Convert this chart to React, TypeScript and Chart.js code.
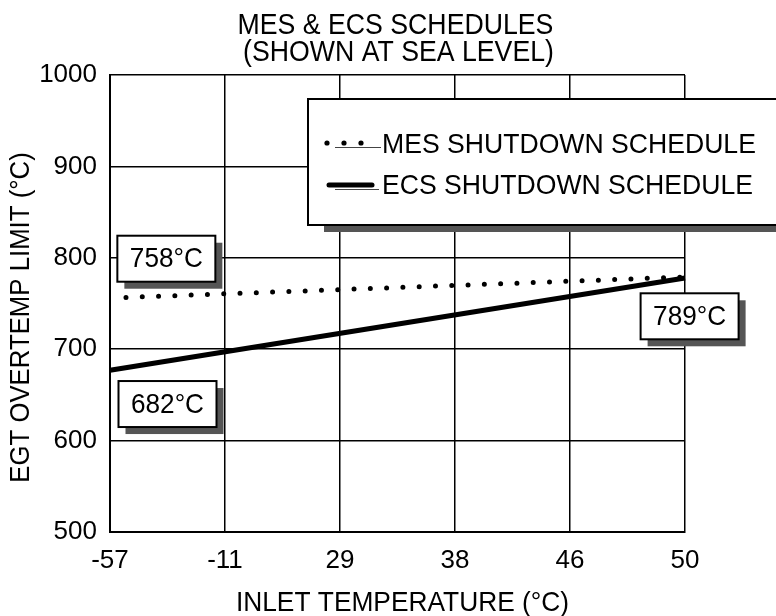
import React, { useEffect, useRef } from "react";
import { Chart, registerables } from "chart.js";

Chart.register(...registerables);

// ---- data ----
const categories = ["-57", "-11", "29", "38", "46", "50"];
const mesValues: (number | null)[] = [756, null, null, null, null, 779];
const ecsValues: (number | null)[] = [677, null, null, null, null, 778];
const yMin = 500;
const yMax = 1000;
const yStep = 100;

const titleLines = ["MES & ECS SCHEDULES", "(SHOWN AT SEA LEVEL)"];
const xTitle = "INLET TEMPERATURE (°C)";
const yTitle = "EGT OVERTEMP LIMIT (°C)";
const seriesNames = ["MES SHUTDOWN SCHEDULE", "ECS SHUTDOWN SCHEDULE"];

// callout labels and their anchors (category index, value)
const calloutTexts = ["758°C", "682°C", "789°C"];
const calloutIndex = [0.49, 0.5, 5.04];
const calloutValue = [799, 640, 736];

const FONT = '"Liberation Sans", Arial, Helvetica, sans-serif';

function txt(ctx: CanvasRenderingContext2D, s: string, x: number, y: number, size: number, sx: number) {
  ctx.save();
  ctx.translate(x, y);
  ctx.scale(sx, 1);
  ctx.font = `${size}px ${FONT}`;
  ctx.fillText(s, 0, 0);
  ctx.restore();
}

const overlay = {
  id: "overlay",
  afterDraw(chart: any) {
    const ctx: CanvasRenderingContext2D = chart.ctx;
    const ca = chart.chartArea;
    const xs = chart.scales.x;
    const ys = chart.scales.y;
    ctx.save();
    ctx.fillStyle = "#000";
    ctx.textAlign = "center";
    ctx.textBaseline = "middle";

    // title
    const cx = (ca.left + ca.right) / 2;
    txt(ctx, titleLines[0], cx - 2, 26, 29, 0.92);
    txt(ctx, titleLines[1], cx + 1, 53, 29, 0.92);

    // x title
    txt(ctx, xTitle, cx + 5, 603, 28, 0.94);

    // y title
    ctx.save();
    ctx.translate(21, (ca.top + ca.bottom) / 2 + 14);
    ctx.rotate(-Math.PI / 2);
    txt(ctx, yTitle, 0, 0, 28, 0.92);
    ctx.restore();

    // legend box
    const lx = ca.left + 198;
    const ly = ca.top + 24;
    const lh = 126;
    const lw = 800 - lx;
    ctx.fillStyle = "#555";
    ctx.fillRect(lx + 16, ly + lh, lw, 7);
    ctx.fillStyle = "#fff";
    ctx.fillRect(lx, ly, lw, lh);
    ctx.strokeStyle = "#000";
    ctx.lineWidth = 2;
    ctx.strokeRect(lx, ly, lw, lh);

    // legend sample MES
    const r1 = ly + 46;
    const r2 = ly + 87;
    ctx.fillStyle = "#000";
    [19, 36, 53].forEach((dx) => {
      ctx.beginPath();
      ctx.arc(lx + dx, r1 - 2, 2.6, 0, Math.PI * 2);
      ctx.fill();
    });
    ctx.strokeStyle = "#444";
    ctx.lineWidth = 1;
    ctx.beginPath();
    ctx.moveTo(lx + 27, r1 + 2.5);
    ctx.lineTo(lx + 73, r1 + 2.5);
    ctx.stroke();
    // legend sample ECS
    ctx.strokeStyle = "#000";
    ctx.lineWidth = 5;
    ctx.lineCap = "round";
    ctx.beginPath();
    ctx.moveTo(lx + 21, r2 - 1);
    ctx.lineTo(lx + 64, r2 - 1);
    ctx.stroke();
    ctx.lineCap = "butt";
    ctx.strokeStyle = "#444";
    ctx.lineWidth = 1;
    ctx.beginPath();
    ctx.moveTo(lx + 27, r2 + 3.5);
    ctx.lineTo(lx + 71, r2 + 3.5);
    ctx.stroke();

    ctx.fillStyle = "#000";
    ctx.textAlign = "left";
    txt(ctx, seriesNames[0], lx + 74, r1, 28, 0.95);
    txt(ctx, seriesNames[1], lx + 74, r2, 28, 0.95);

    // callouts
    ctx.textAlign = "center";
    const bw = 98;
    const bh = 46;
    calloutTexts.forEach((t, i) => {
      const px = xs.getPixelForValue(calloutIndex[i]);
      const py = ys.getPixelForValue(calloutValue[i]);
      const bx = px - bw / 2;
      const by = py - bh / 2;
      ctx.fillStyle = "#555";
      ctx.fillRect(bx + 7, by + 7, bw, bh);
      ctx.fillStyle = "#fff";
      ctx.fillRect(bx, by, bw, bh);
      ctx.strokeStyle = "#000";
      ctx.lineWidth = 2;
      ctx.strokeRect(bx, by, bw, bh);
      ctx.fillStyle = "#000";
      txt(ctx, t, px, py + 1, 28, 0.935);
    });

    ctx.restore();
  },
};

export default function App() {
  const ref = useRef<HTMLCanvasElement>(null);
  useEffect(() => {
    const chart = new Chart(ref.current!, {
      type: "line",
      data: {
        labels: categories,
        datasets: [
          {
            label: seriesNames[0],
            data: mesValues,
            borderColor: "#000",
            borderWidth: 5,
            borderDash: [0, 16.3],
            borderDashOffset: 0.3,
            borderCapStyle: "round",
            pointRadius: 0,
            spanGaps: true,
            fill: false,
          },
          {
            label: seriesNames[1],
            data: ecsValues,
            borderColor: "#000",
            borderWidth: 5,
            pointRadius: 0,
            spanGaps: true,
            fill: false,
          },
        ],
      },
      options: {
        responsive: false,
        animation: false,
        devicePixelRatio: 1,
        layout: { padding: { top: 75, right: 91, left: 0, bottom: 0 } },
        plugins: {
          legend: { display: false },
          title: { display: false },
          tooltip: { enabled: false },
        },
        scales: {
          x: {
            type: "category",
            offset: false,
            grid: { color: "#000", lineWidth: 1.5, drawTicks: false },
            border: { color: "#000", width: 2 },
            ticks: {
              color: "#000",
              font: { family: FONT, size: 26 },
              padding: 13,
              maxRotation: 0,
              autoSkip: false,
            },
            afterFit: (s: any) => {
              s.height = 84;
            },
          },
          y: {
            min: yMin,
            max: yMax,
            grid: { color: "#000", lineWidth: 1.5, drawTicks: false },
            border: { color: "#000", width: 2 },
            ticks: {
              stepSize: yStep,
              color: "#000",
              font: { family: FONT, size: 26 },
              padding: 13,
              callback: (v: any) => String(v),
            },
            afterFit: (s: any) => {
              s.width = 110;
            },
          },
        },
      },
      plugins: [overlay],
    } as any);
    return () => chart.destroy();
  }, []);
  return (
    <div style={{ position: "absolute", left: 0, top: 0, width: 776, height: 616, background: "#fff" }}>
      <canvas ref={ref} width={776} height={616} style={{ display: "block", width: 776, height: 616 }} />
    </div>
  );
}
